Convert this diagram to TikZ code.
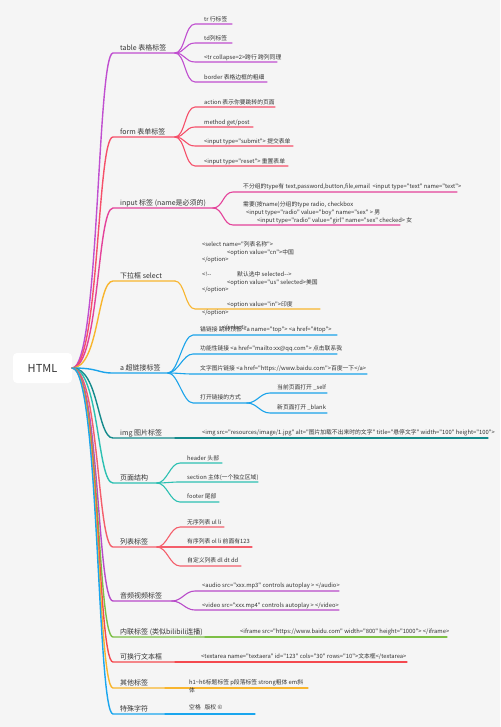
\documentclass[tikz,border=0pt]{standalone}
\usepackage{fontspec}
\setmainfont{Noto Sans CJK SC}[Ligatures=TeXOff]
\definecolor{bg}{HTML}{F5F5F5}
\definecolor{txt}{HTML}{333333}
\definecolor{cA}{HTML}{C04FD0}
\definecolor{cB}{HTML}{F5506A}
\definecolor{cC}{HTML}{E4429A}
\definecolor{cD}{HTML}{F8B52E}
\definecolor{cE}{HTML}{1AA3EA}
\definecolor{cF}{HTML}{148A8C}
\definecolor{cG}{HTML}{2CC0B2}
\definecolor{cH}{HTML}{F45E6B}
\definecolor{cI}{HTML}{B84AC9}
\definecolor{cJ}{HTML}{7DBF46}
\definecolor{cK}{HTML}{F4494F}
\definecolor{cL}{HTML}{F8B52E}
\definecolor{cM}{HTML}{1AA6EE}
\begin{document}
\begin{tikzpicture}[x=1pt,y=-1pt,
  lab/.style={anchor=base west, inner sep=0pt, font=\fontsize{7}{9}\selectfont, text=txt},
  sub/.style={anchor=base west, inner sep=0pt, font=\fontsize{5.8}{7.5}\selectfont, text=txt},
  mainln/.style={line width=1.4pt, line cap=round},
  subln/.style={line width=1.1pt, line cap=round},
  rootbox/.style={fill=white, rounded corners=4pt, minimum width=59pt, minimum height=30pt, inner sep=0pt, font=\fontsize{11}{13}\selectfont, text=txt},
]
\useasboundingbox (0,0) rectangle (500,727);
\fill[bg] (0,0) rectangle (500,727);

\node[rootbox] (root) at (42.5,368) {HTML};

% ---------- coordinates ----------
\coordinate (bA) at (113,53);  \coordinate (eA) at (175,53);
\coordinate (bB) at (113,137); \coordinate (eB) at (175,137);
\coordinate (bC) at (113,208); \coordinate (eC) at (213,208);
\coordinate (bD) at (113,281); \coordinate (eD) at (175,281);
\coordinate (bE) at (113,373); \coordinate (eE) at (168,373);
\coordinate (bF) at (113,438); \coordinate (eF) at (175,438);
\coordinate (bG) at (113,483); \coordinate (eG) at (157,483);
\coordinate (bH) at (113,547); \coordinate (eH) at (157,547);
\coordinate (bI) at (113,601); \coordinate (eI) at (172,601);
\coordinate (bJ) at (113,637); \coordinate (eJ) at (205,637);
\coordinate (bK) at (113,662); \coordinate (eK) at (175,662);
\coordinate (bL) at (113,688); \coordinate (eL) at (165,688);
\coordinate (bM) at (113,714); \coordinate (eM) at (165,714);

% ---------- main connectors ----------
\foreach \b/\c in {A/cA,B/cB,C/cC,D/cD,E/cE,F/cF,G/cG,H/cH,I/cI,J/cJ,K/cK,L/cL,M/cM}{
  \draw[mainln,\c] (root.east) .. controls +(27,0) and +(-16,0) .. (b\b) -- (e\b);
}

% ---------- labels ----------
\node[lab] (tA) at (120,50.5) {table 表格标签};
\node[lab] (tB) at (120,134.5) {form 表单标签};
\node[lab] (tC) at (120,205.5) {input 标签 (name是必须的)};
\node[lab] (tD) at (120,278.5) {下拉框 select};
\node[lab] (tE) at (120,370.5) {a 超链接标签};
\node[lab] (tF) at (120,435.5) {img 图片标签};
\node[lab] (tG) at (120,480.5) {页面结构};
\node[lab] (tH) at (120,544.5) {列表标签};
\node[lab] (tI) at (120,598.5) {音频视频标签};
\node[lab] (tJ) at (120,634.5) {内联标签 (类似bilibili连播)};
\node[lab] (tK) at (120,659.5) {可换行文本框};
\node[lab] (tL) at (120,685.5) {其他标签};
\node[lab] (tM) at (120,711.5) {特殊字符};

% ---------- A: table ----------
\coordinate (sA1) at (195,24); \coordinate (fA1) at (232,24);
\coordinate (sA2) at (195,43); \coordinate (fA2) at (232,43);
\coordinate (sA3) at (195,62); \coordinate (fA3) at (277,62);
\coordinate (sA4) at (195,82); \coordinate (fA4) at (267,82);
\foreach \i in {1,2,3,4}{\draw[subln,cA] (eA) .. controls +(10,0) and +(-10,0) .. (sA\i) -- (fA\i);}
\node[sub] (nA1) at (204,21.5) {tr 行标签};
\node[sub] (nA2) at (204,40.5) {td列标签};
\node[sub] (nA3) at (204,59.5) {<tr collapse=2>跨行 跨列同理};
\node[sub] (nA4) at (204,79.5) {border 表格边框的粗细};

% ---------- B: form ----------
\coordinate (sB1) at (195,107); \coordinate (fB1) at (275,107);
\coordinate (sB2) at (195,127); \coordinate (fB2) at (253,127);
\coordinate (sB3) at (195,146); \coordinate (fB3) at (293,146);
\coordinate (sB4) at (195,166); \coordinate (fB4) at (288,166);
\foreach \i in {1,2,3,4}{\draw[subln,cB] (eB) .. controls +(10,0) and +(-10,0) .. (sB\i) -- (fB\i);}
\node[sub] (nB1) at (204,104.5) {action 表示你要跳转的页面};
\node[sub] (nB2) at (204,124.5) {method get/post};
\node[sub] (nB3) at (204,143.5) {<input type="submit"> 提交表单};
\node[sub] (nB4) at (204,163.5) {<input type="reset"> 重置表单};

% ---------- C: input ----------
\coordinate (sC1) at (233,192); \coordinate (fC1) at (457,192);
\coordinate (sC2) at (233,225); \coordinate (fC2) at (400,225);
\foreach \i in {1,2}{\draw[subln,cC] (eC) .. controls +(10,0) and +(-10,0) .. (sC\i) -- (fC\i);}
\node[sub] (nC1) at (243,188.3) {不分组的type有 text,password,button,file,email\ \ <input type="text" name="text">};
\node[sub] (nC2a) at (243,206.3) {需要(按name)分组的type radio, checkbox};
\node[sub] (nC2b) at (246,214.3) {<input type="radio" value="boy" name="sex" > 男};
\node[sub] (nC2c) at (257,222.3) {<input type="radio" value="girl" name="sex" checked> 女};

% ---------- D: select ----------
\coordinate (sD1) at (195,309); \coordinate (fD1) at (320,309);
\draw[subln,cD] (eD) .. controls +(10,0) and +(-10,0) .. (sD1) -- (fD1);
\node[sub] (nD1) at (202,246.3) {<select name="列表名称">};
\node[sub] (nD2) at (227,254.3) {<option value="cn">中国};
\node[sub] (nD3) at (202,261.3) {</option>};
\node[sub] (nD4) at (202,276.3) {\makebox[35pt][l]{<!-{}-}默认选中 selected-{}->};
\node[sub] (nD5) at (227,284.3) {<option value="us" selected>美国};
\node[sub] (nD6) at (202,291.3) {</option>};
\node[sub] (nD7) at (227,306.3) {<option value="in">印度};
\node[sub] (nD8) at (202,314.3) {</option>};
\node[sub] (nD9) at (222,329.3) {</select>};

% ---------- E: a ----------
\coordinate (sE1) at (193,335); \coordinate (fE1) at (337,335);
\coordinate (sE2) at (193,354); \coordinate (fE2) at (337,354);
\coordinate (sE3) at (193,374); \coordinate (fE3) at (367,374);
\coordinate (sE4) at (193,403); \coordinate (fE4) at (247,403);
\foreach \i in {1,2,3,4}{\draw[subln,cE] (eE) .. controls +(10,0) and +(-10,0) .. (sE\i) -- (fE\i);}
\node[sub] (nE1) at (200,331.5) {锚链接 跳转顶部 <a name="top"> <a href="\#top">};
\node[sub] (nE2) at (200,350.5) {功能性链接 <a href="mailto:xx@qq.com"> 点击联系我};
\node[sub] (nE3) at (200,370.5) {文字图片链接 <a href="https://www.baidu.com">百度一下</a>};
\node[sub] (nE4) at (200,399.5) {打开链接的方式};
\coordinate (sE41) at (270,393); \coordinate (fE41) at (327,393);
\coordinate (sE42) at (270,413); \coordinate (fE42) at (327,413);
\foreach \i in {1,2}{\draw[subln,cE] (fE4) .. controls +(10,0) and +(-10,0) .. (sE4\i) -- (fE4\i);}
\node[sub] (nE41) at (277,389.5) {当前页面打开 \_self};
\node[sub] (nE42) at (277,409.5) {新页面打开 \_blank};

% ---------- F: img ----------
\coordinate (fF1) at (488,438);
\draw[subln,cF] (eF) -- (fF1);
\node[sub] (nF1) at (202,434.5) {<img src="resources/image/1.jpg" alt="图片加载不出来时的文字" title="悬停文字" width="100" height="100">};

% ---------- G: page ----------
\coordinate (sG1) at (180,463); \coordinate (fG1) at (222,463);
\coordinate (sG2) at (180,482); \coordinate (fG2) at (258,482);
\coordinate (sG3) at (180,502); \coordinate (fG3) at (219,502);
\foreach \i in {1,2,3}{\draw[subln,cG] (eG) .. controls +(10,0) and +(-10,0) .. (sG\i) -- (fG\i);}
\node[sub] (nG1) at (187,460.3) {header 头部};
\node[sub] (nG2) at (187,479.3) {section 主体(一个独立区域)};
\node[sub] (nG3) at (187,498.3) {footer 尾部};

% ---------- H: lists ----------
\coordinate (sH1) at (180,527); \coordinate (fH1) at (224,527);
\coordinate (sH2) at (180,547); \coordinate (fH2) at (252,547);
\coordinate (sH3) at (180,566); \coordinate (fH3) at (241,566);
\foreach \i in {1,2,3}{\draw[subln,cH] (eH) .. controls +(10,0) and +(-10,0) .. (sH\i) -- (fH\i);}
\node[sub] (nH1) at (187,524.3) {无序列表 ul li};
\node[sub] (nH2) at (187,543.3) {有序列表 ol li 前面有123};
\node[sub] (nH3) at (187,562.3) {自定义列表 dl dt dd};

% ---------- I: audio/video ----------
\coordinate (sI1) at (195,591); \coordinate (fI1) at (339,591);
\coordinate (sI2) at (195,610); \coordinate (fI2) at (339,610);
\foreach \i in {1,2}{\draw[subln,cI] (eI) .. controls +(10,0) and +(-10,0) .. (sI\i) -- (fI\i);}
\node[sub] (nI1) at (202,587.3) {<audio src="xxx.mp3" controls autoplay > </audio>};
\node[sub] (nI2) at (202,607.3) {<video src="xxx.mp4" controls autoplay > </video>};

% ---------- J, K, L, M ----------
\coordinate (fJ1) at (447,637); \draw[subln,cJ] (eJ) -- (fJ1);
\node[sub] (nJ1) at (240,633.3) {<iframe src="https://www.baidu.com" width="800" height="1000"> </iframe>};
\coordinate (fK1) at (407,662); \draw[subln,cK] (eK) -- (fK1);
\node[sub] (nK1) at (201,658.3) {<textarea name="textaera" id="123" cols="30" rows="10">文本框</textarea>};
\coordinate (fL1) at (308,688); \draw[subln,cL] (eL) -- (fL1);
\node[sub] (nL1) at (189,684.3) {h1\textasciitilde h6标题标签 p段落标签 strong粗体 em斜};
\node[sub] (nL2) at (189,692.3) {体};
\coordinate (fM1) at (255,714); \draw[subln,cM] (eM) -- (fM1);
\node[sub] (nM1) at (189,709.3) {空格\ \ \ 版权 ©};
\end{tikzpicture}
\end{document}
